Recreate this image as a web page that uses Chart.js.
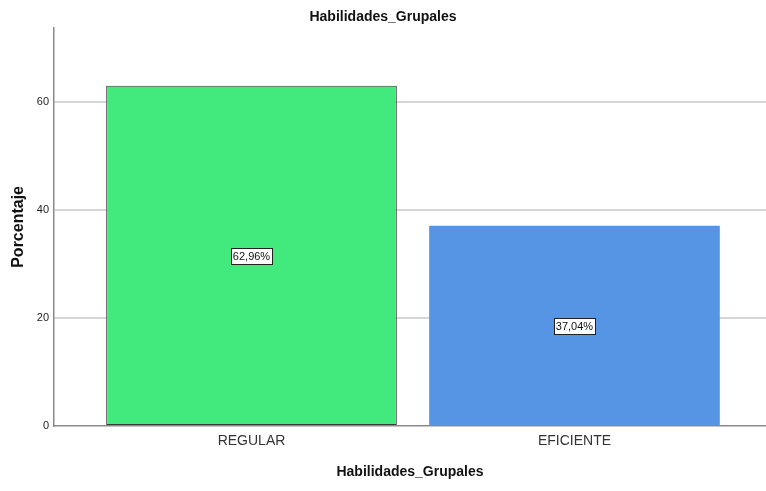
<!DOCTYPE html>
<html>
<head>
<meta charset="utf-8">
<script src="https://cdn.jsdelivr.net/npm/chart.js@4"></script>
<style>
  html, body { margin: 0; padding: 0; background: #fff; }
  #wrap { width: 766px; height: 491px; }
</style>
</head>
<body>
<div id="wrap"><canvas id="chart"></canvas></div>
<script>
// data
const categories = ['REGULAR', 'EFICIENTE'];
const percentages = [62.96, 37.04];
const valueLabels = ['62,96%', '37,04%'];
const yTicks = [0, 20, 40, 60];

const barColors = ['#42ea7e', '#5595e4'];
const barBorders = ['#3a3a3a', '#5595e4'];
const FONT = "'Liberation Sans', Arial, sans-serif";

// boxed percentage labels in the middle of each bar
const boxLabels = {
    id: 'boxLabels',
    afterDatasetsDraw(chart) {
        const ctx = chart.ctx;
        const meta = chart.getDatasetMeta(0);
        const yScale = chart.scales.y;
        ctx.save();
        ctx.font = '11px ' + FONT;
        ctx.textAlign = 'center';
        ctx.textBaseline = 'middle';
        meta.data.forEach((bar, i) => {
            const y = yScale.getPixelForValue(percentages[i] / 2);
            const w = Math.round(ctx.measureText(valueLabels[i]).width + 4);
            const h = 16;
            const bx = Math.round(bar.x - w / 2) + 0.5;
            const by = Math.round(y - h / 2) + 0.5;
            ctx.fillStyle = '#fff';
            ctx.fillRect(bx, by, w, h);
            ctx.strokeStyle = '#222';
            ctx.lineWidth = 1;
            ctx.strokeRect(bx, by, w, h);
            ctx.fillStyle = '#111';
            ctx.fillText(valueLabels[i], bar.x, y + 1);
        });
        ctx.restore();
    }
};

new Chart(document.getElementById('chart'), {
    type: 'bar',
    data: {
        datasets: [{
            data: percentages.map((v, i) => ({ x: i + 1, y: v })),
            backgroundColor: barColors,
            borderColor: barBorders,
            borderWidth: [1, 0],
            borderSkipped: false,
            categoryPercentage: 1,
            barPercentage: 0.9
        }]
    },
    options: {
        responsive: true,
        maintainAspectRatio: false,
        animation: false,
        layout: { padding: 0 },
        plugins: {
            legend: { display: false },
            tooltip: { enabled: false },
            title: {
                display: true,
                text: 'Habilidades_Grupales',
                color: '#111',
                font: { family: FONT, size: 14, weight: 'bold' },
                padding: { top: 9, bottom: 2 }
            }
        },
        scales: {
            x: {
                type: 'linear',
                offset: false,
                bounds: 'data',
                min: 0.3885,
                max: 2.593,
                afterBuildTicks: (scale) => {
                    scale.ticks = categories.map((_, i) => ({ value: i + 1 }));
                },
                afterFit: (scale) => { scale.height = 65; },
                grid: { display: false, drawTicks: false },
                border: { display: true, color: '#8a8a8a', width: 1.5 },
                ticks: {
                    padding: 7,
                    color: '#333',
                    font: { family: FONT, size: 14 },
                    callback: (v) => categories[v - 1]
                },
                title: {
                    display: true,
                    text: 'Habilidades_Grupales',
                    color: '#111',
                    font: { family: FONT, size: 14, weight: 'bold' },
                    padding: { top: 0, bottom: 10 }
                }
            },
            y: {
                min: 0,
                max: 73.7,
                afterBuildTicks: (scale) => {
                    scale.ticks = yTicks.map(v => ({ value: v }));
                },
                afterFit: (scale) => { scale.width = 54; },
                grid: {
                    drawTicks: false,
                    lineWidth: 2,
                    color: (c) => c.tick && c.tick.value === 0 ? 'rgba(0,0,0,0)' : '#d6d6d6'
                },
                border: { display: true, color: '#8a8a8a', width: 1.5 },
                ticks: {
                    padding: 5,
                    color: '#222',
                    font: { family: FONT, size: 11 }
                },
                title: {
                    display: true,
                    text: 'Porcentaje',
                    color: '#111',
                    font: { family: FONT, size: 16, weight: 'bold' },
                    padding: { top: 9, bottom: 0 }
                }
            }
        }
    },
    plugins: [boxLabels]
});
</script>
</body>
</html>
